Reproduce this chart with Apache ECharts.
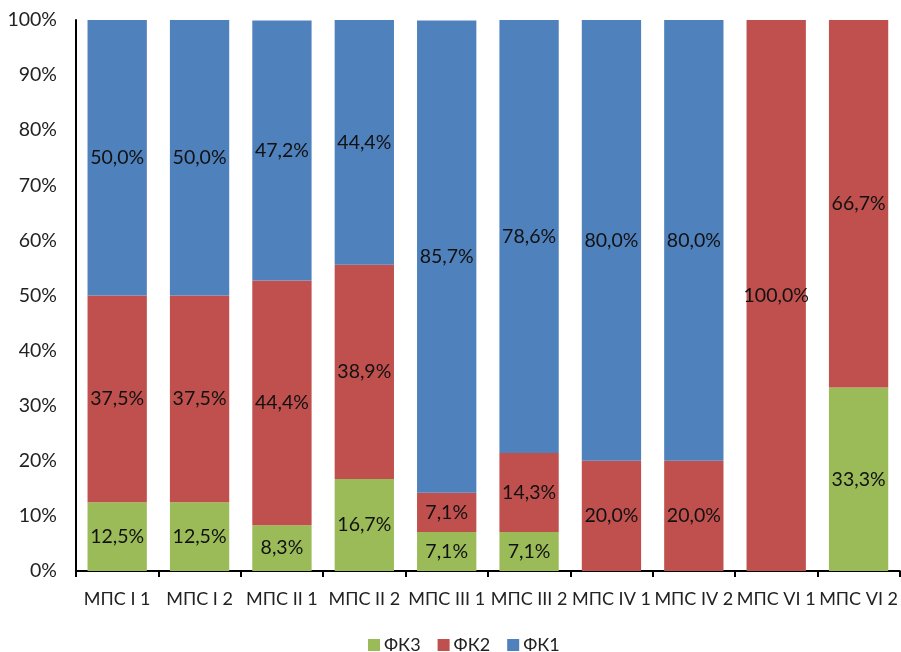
<!DOCTYPE html>
<html>
<head>
<meta charset="utf-8">
<script src="https://cdn.jsdelivr.net/npm/echarts@6/dist/echarts.min.js"></script>
<style>
  html, body { margin: 0; padding: 0; background: #fff; }
  #chart { width: 901px; height: 652px; }
</style>
</head>
<body>
<div id="chart"></div>
<script>
// Categories and shares (in %) per functional class
const categories = ['МПС I 1', 'МПС I 2', 'МПС II 1', 'МПС II 2', 'МПС III 1', 'МПС III 2', 'МПС IV 1', 'МПС IV 2', 'МПС VI 1', 'МПС VI 2'];
const fk3 = [12.5, 12.5, 8.3, 16.7, 7.1, 7.1, 0, 0, 0, 33.3];
const fk2 = [37.5, 37.5, 44.4, 38.9, 7.1, 14.3, 20.0, 20.0, 100.0, 66.7];
const fk1 = [50.0, 50.0, 47.2, 44.4, 85.7, 78.6, 80.0, 80.0, 0, 0];
const yTicks = [0, 10, 20, 30, 40, 50, 60, 70, 80, 90, 100];

const FONT = 'Lato';

function pct(v) {
  return v.toFixed(1).replace('.', ',') + '%';
}

function makeSeries(name, data, color) {
  return {
    name: name,
    type: 'bar',
    stack: 'total',
    data: data,
    barCategoryGap: '28%',
    itemStyle: { color: color },
    label: {
      show: true,
      position: 'inside',
      color: '#111',
      fontFamily: FONT,
      fontSize: 19.5,
      formatter: p => (p.value > 0 ? pct(p.value) : '')
    },
    emphasis: { disabled: true }
  };
}

const chart = echarts.init(document.getElementById('chart'), null, { renderer: 'canvas' });
chart.setOption({
  animation: false,
  backgroundColor: '#fff',
  textStyle: { fontFamily: FONT },
  grid: { left: 76, right: 1, top: 20, bottom: 81, containLabel: false },
  legend: {
    data: ['ФК3', 'ФК2', 'ФК1'],
    left: 368,
    top: 636,
    padding: 0,
    icon: 'rect',
    itemWidth: 12,
    itemHeight: 12,
    itemGap: 17,
    textStyle: { fontFamily: FONT, fontSize: 18, color: '#222', padding: [0, 0, 0, -1] }
  },
  xAxis: {
    type: 'category',
    data: categories,
    axisLine: { lineStyle: { color: '#000', width: 2 } },
    axisTick: { show: true, alignWithLabel: false, length: 6, lineStyle: { color: '#000', width: 2 } },
    axisLabel: { interval: 0, margin: 19, color: '#222', fontFamily: FONT, fontSize: 18 }
  },
  yAxis: {
    type: 'value',
    min: yTicks[0],
    max: yTicks[yTicks.length - 1],
    interval: 10,
    splitLine: { show: false },
    axisLine: { show: true, lineStyle: { color: '#000', width: 2 } },
    axisTick: { show: false },
    axisLabel: { margin: 19, color: '#222', fontFamily: FONT, fontSize: 19.5, formatter: '{value}%' }
  },
  series: [
    makeSeries('ФК3', fk3, '#9BBB59'),
    makeSeries('ФК2', fk2, '#C0504D'),
    makeSeries('ФК1', fk1, '#4F81BD')
  ]
});
</script>
</body>
</html>
